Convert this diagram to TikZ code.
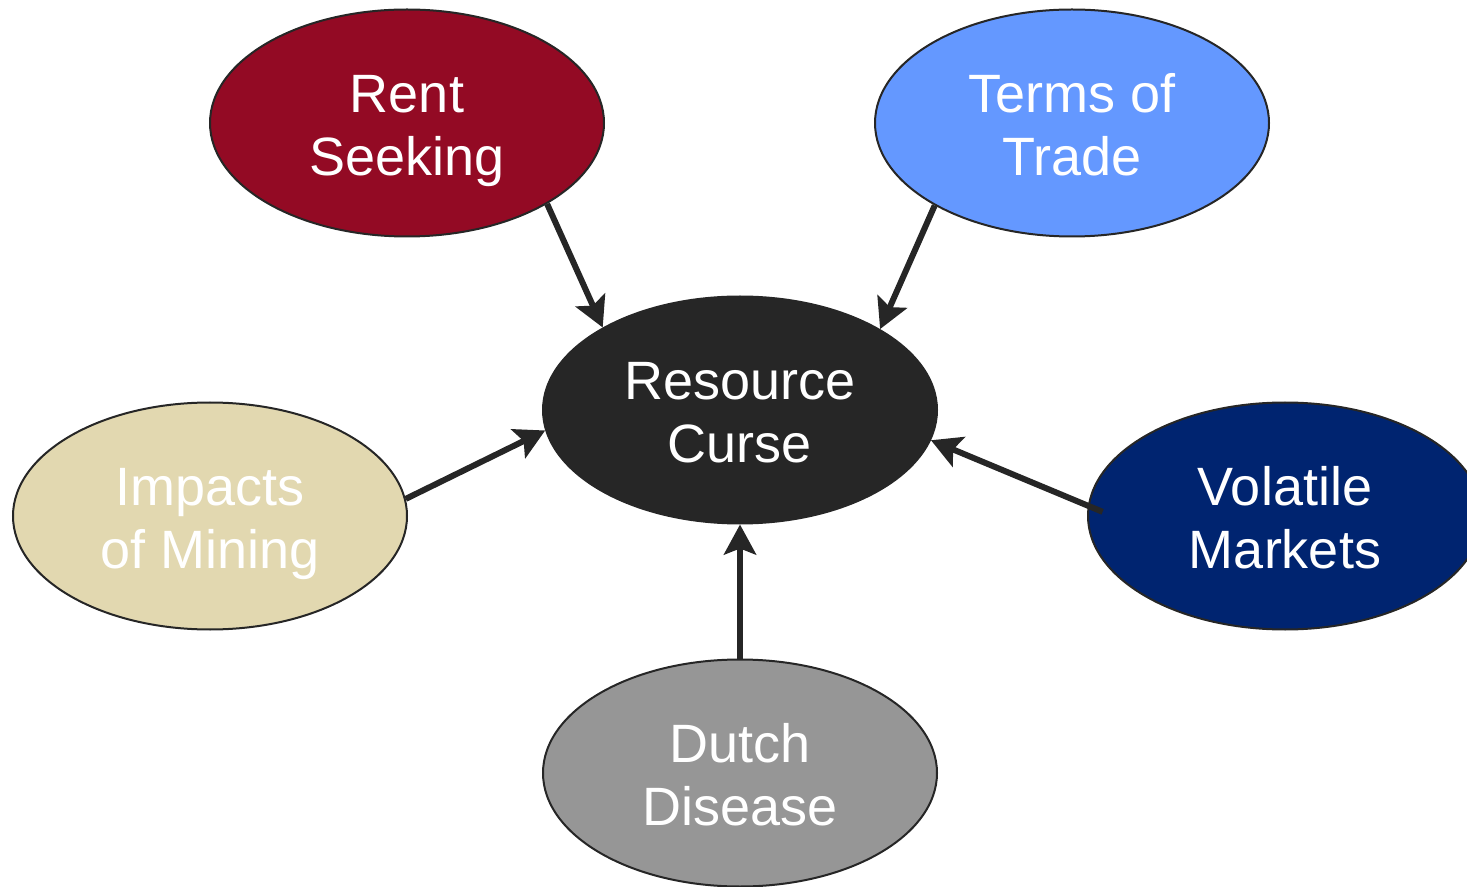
\documentclass[tikz,border=0pt]{standalone}
\usepackage{fontspec}
\setmainfont{Liberation Sans}
\usetikzlibrary{shapes.geometric,arrows.meta}
\definecolor{RentRed}{RGB}{147, 10, 36}
\definecolor{TradeBlue}{RGB}{100, 152, 255}
\definecolor{CurseBlack}{RGB}{38, 38, 38}
\definecolor{MiningSand}{RGB}{226, 216, 176}
\definecolor{MarketNavy}{RGB}{0, 36, 112}
\definecolor{DutchGrey}{RGB}{150, 150, 150}
% two-line oval text, lowered a little in its ellipse
\newcommand{\twolines}[2]{\rule{0pt}{27pt}#1\\#2\vphantom{g}}

\begin{document}
\begin{tikzpicture}[
                x=0.5pt,y=-0.5pt,
                oval/.style={ellipse,draw=CurseBlack,line width=1pt,minimum width=197pt,minimum height=113.5pt,
                    inner sep=0pt,align=center,text=white,font=\fontsize{27}{31.5}\selectfont},
                arr/.style={CurseBlack,line width=3pt,-{Stealth[length=15pt,width=16pt,inset=3pt]}}
            ]
                \useasboundingbox (0,0) rectangle (1467,887);
                % Centre and causes
                \node[oval,fill=CurseBlack] (curse) at (740,410) {\twolines{Resource}{Curse}};
                \node[oval,fill=RentRed]    (rent)  at (407,123) {\twolines{Rent}{Seeking}};
                \node[oval,fill=TradeBlue]  (trade) at (1072,123) {\twolines{Terms of}{Trade}};
                \node[oval,fill=MiningSand] (mine)  at (210,516) {\twolines{Impacts}{of Mining}};
                \node[oval,fill=MarketNavy] (mkt)   at (1285,516) {\twolines{Volatile}{Markets}};
                \node[oval,fill=DutchGrey]  (dutch) at (740,773) {\twolines{Dutch}{Disease}};
                % Arrows into the centre
                \foreach \s/\a/\b/\o in {rent/-30.5/149.7/0, trade/-149.5/30/0, mine/5.9/186.5/0, mkt/177/-9/-8, dutch/90/270/0} {
                    \draw[arr,shorten <=\o pt] (\s.\a)--(curse.\b);
                }
            \end{tikzpicture}
\end{document}
